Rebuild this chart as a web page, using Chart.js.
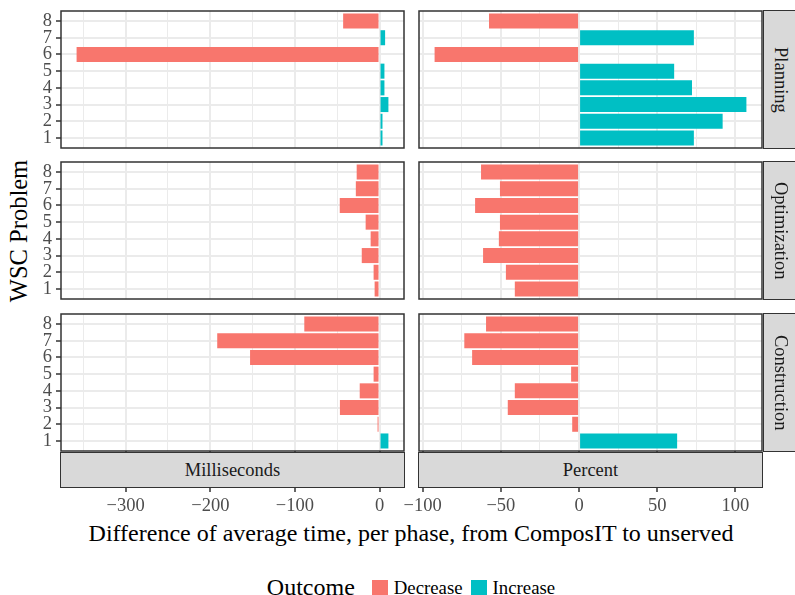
<!DOCTYPE html>
<html>
<head>
<meta charset="utf-8">
<script src="https://cdn.jsdelivr.net/npm/chart.js@4.4.1/dist/chart.umd.min.js"></script>
<style>
    body { margin: 0; background: #fff; }
    #wrap { position: relative; width: 795px; height: 595px; overflow: hidden; font-family: 'Liberation Serif', serif; }
    #wrap canvas { position: absolute; }
    .strip { position: absolute; box-sizing: border-box; background: #D9D9D9; border: 1.5px solid #333;
             color: #1A1A1A; font-size: 18.5px; display: flex; align-items: center; justify-content: center; }
    .vtext { writing-mode: vertical-rl; }
    .txt { position: absolute; white-space: nowrap; color: #000; }
    #legend { position: absolute; left: 0; width: 822px; top: 574px; display: flex; justify-content: center; align-items: center; }
    #legend .key { width: 16px; height: 16px; margin: 0 6px 0 8px; }
    #legend span { font-size: 18.8px; }
</style>
</head>
<body>
<div id="wrap">
    <div class="txt" id="ytitle" style="font-size:24.5px;left:19px;top:231px;transform:translate(-50%,-50%) rotate(-90deg);">WSC Problem</div>
    <div class="txt" style="font-size:24px;left:411px;top:533px;transform:translate(-50%,-50%);">Difference of average time, per phase, from ComposIT to unserved</div>
    <div id="legend">
        <span style="font-size:24px;margin-right:9px;">Outcome</span>
        <div class="key" style="background:#F8766D"></div><span>Decrease</span>
        <div class="key" style="background:#00BFC4"></div><span>Increase</span>
    </div>
</div>
<script>
// data, problems 1..8 from bottom to top
const problems = [1, 2, 3, 4, 5, 6, 7, 8];
const phases = ['Planning', 'Optimization', 'Construction'];
const units = ['Milliseconds', 'Percent'];

const planningMs = [3.5, 3.5, 10.5, 5.8, 5.8, -358, 6.6, -43];
const planningPct = [73.4, 91.8, 107, 72.2, 60.8, -92.4, 73.4, -57.6];
const optimizationMs = [-5.8, -7, -21, -10.5, -16.4, -47, -28, -27];
const optimizationPct = [-41.1, -46.8, -61.4, -51.3, -50.6, -66.5, -50.6, -62.7];
const constructionMs = [10.5, -2.3, -46.8, -23.4, -7, -153, -191.8, -88.9];
const constructionPct = [62.7, -4.4, -45.6, -41.1, -5.1, -68.4, -73.4, -59.5];

// x grid lines and labelled ticks per unit column
const msGrid = [-350, -300, -250, -200, -150, -100, -50, 0];
const msTicks = [-300, -200, -100, 0];
const pctGrid = [-100, -75, -50, -25, 0, 25, 50, 75, 100];
const pctTicks = [-100, -50, 0, 50, 100];

const DEC = '#F8766D';
const INC = '#00BFC4';

const panelValues = [
    [planningMs, planningPct],
    [optimizationMs, optimizationPct],
    [constructionMs, constructionPct],
];

// ggplot style limits: data range expanded by 5% each side
function limits(arrays) {
    let all = [].concat(...arrays);
    let lo = Math.min(...all), hi = Math.max(...all);
    let pad = (hi - lo) * 0.05;
    return { min: lo - pad, max: hi + pad };
}
const colLimits = [
    limits([planningMs, optimizationMs, constructionMs]),
    limits([planningPct, optimizationPct, constructionPct]),
];
const colGrid = [msGrid, pctGrid];
const colTicks = [msTicks, pctTicks];

// panel placement
const colX = [{ left: 61, right: 404 }, { left: 419, right: 762 }];
const rowY = [{ top: 11, bottom: 148 }, { top: 162, bottom: 299 }, { top: 314, bottom: 451 }];
const AXIS_H = 63;
const PAD_L = 24; // room on the left of the right column for the "−100" label

const panelBorder = {
    id: 'panelBorder',
    afterDraw(chart) {
        let a = chart.chartArea;
        let ctx = chart.ctx;
        ctx.save();
        ctx.strokeStyle = '#333333';
        ctx.lineWidth = 1.5;
        ctx.strokeRect(a.left, a.top, a.right - a.left, a.bottom - a.top);
        ctx.restore();
    }
};

const wrap = document.getElementById('wrap');

function makePanel(row, col) {
    let padLeft = col === 0 ? 0 : PAD_L;
    let left = col === 0 ? 0 : colX[1].left - padLeft;
    let right = colX[col].right + 2;
    let top = rowY[row].top - 2;
    let bottom = row === 2 ? rowY[2].bottom + AXIS_H : rowY[row].bottom + 2;

    let canvas = document.createElement('canvas');
    canvas.width = right - left;
    canvas.height = bottom - top;
    canvas.style.left = left + 'px';
    canvas.style.top = top + 'px';
    wrap.appendChild(canvas);

    let values = panelValues[row][col];
    let majors = colTicks[col];
    let isBottom = row === 2;

    new Chart(canvas, {
        type: 'bar',
        data: {
            datasets: [{
                data: values.map((v, i) => ({ x: v, y: problems[i] })),
                backgroundColor: values.map(v => v < 0 ? DEC : INC),
                borderWidth: 0,
                categoryPercentage: 0.9,
                barPercentage: 1,
            }]
        },
        options: {
            indexAxis: 'y',
            responsive: false,
            animation: false,
            layout: { padding: { left: padLeft, right: 2, top: 2, bottom: isBottom ? 0 : 2 } },
            plugins: { legend: { display: false }, tooltip: { enabled: false } },
            scales: {
                x: {
                    type: 'linear',
                    min: colLimits[col].min,
                    max: colLimits[col].max,
                    offset: false,
                    afterBuildTicks: scale => { scale.ticks = colGrid[col].map(v => ({ value: v })); },
                    afterFit: scale => {
                        scale.height = isBottom ? AXIS_H : 0;
                        scale.paddingLeft = 0;
                        scale.paddingRight = 0;
                    },
                    border: { display: false },
                    grid: {
                        offset: false,
                        color: '#EBEBEB',
                        lineWidth: ctx => majors.includes(ctx.tick.value) ? 2 : 1,
                        drawTicks: isBottom,
                        tickLength: 41,
                        tickWidth: 1.5,
                        tickColor: ctx => majors.includes(ctx.tick.value) ? '#333333' : 'rgba(0,0,0,0)',
                    },
                    ticks: {
                        display: isBottom,
                        autoSkip: false,
                        maxRotation: 0,
                        padding: 3,
                        color: '#4D4D4D',
                        font: { family: 'Liberation Serif', size: 18.5 },
                        callback: v => majors.includes(v) ? String(v).replace('-', '\u2212') : '',
                    },
                },
                y: {
                    type: 'linear',
                    min: 0.4,
                    max: 8.6,
                    offset: false,
                    afterBuildTicks: scale => { scale.ticks = problems.map(v => ({ value: v })); },
                    afterFit: scale => {
                        scale.width = col === 0 ? colX[0].left : 0;
                        scale.paddingTop = 0;
                        scale.paddingBottom = 0;
                    },
                    border: { display: false },
                    grid: {
                        offset: false,
                        color: '#EBEBEB',
                        lineWidth: 2,
                        drawTicks: col === 0,
                        tickLength: 5,
                        tickWidth: 1.5,
                        tickColor: '#333333',
                    },
                    ticks: {
                        display: col === 0,
                        autoSkip: false,
                        padding: 4,
                        color: '#4D4D4D',
                        font: { family: 'Liberation Serif', size: 18.5 },
                        callback: v => String(v),
                    },
                },
            },
        },
        plugins: [panelBorder],
    });
}

for (let r = 0; r < phases.length; r++) {
    for (let c = 0; c < units.length; c++) {
        makePanel(r, c);
    }
}

// facet strips: phases on the right, units at the bottom
phases.forEach((name, r) => {
    let s = document.createElement('div');
    s.className = 'strip';
    s.style.left = (colX[1].right + 1) + 'px';
    s.style.top = (rowY[r].top - 0.75) + 'px';
    s.style.width = '34px';
    s.style.height = (rowY[r].bottom - rowY[r].top + 1.5) + 'px';
    let t = document.createElement('span');
    t.className = 'vtext';
    t.innerText = name;
    s.appendChild(t);
    wrap.appendChild(s);
});
units.forEach((name, c) => {
    let s = document.createElement('div');
    s.className = 'strip';
    s.style.left = (colX[c].left - 0.75) + 'px';
    s.style.top = (rowY[2].bottom + 1) + 'px';
    s.style.width = (colX[c].right - colX[c].left + 1.5) + 'px';
    s.style.height = '36px';
    s.innerText = name;
    wrap.appendChild(s);
});
</script>
</body>
</html>
